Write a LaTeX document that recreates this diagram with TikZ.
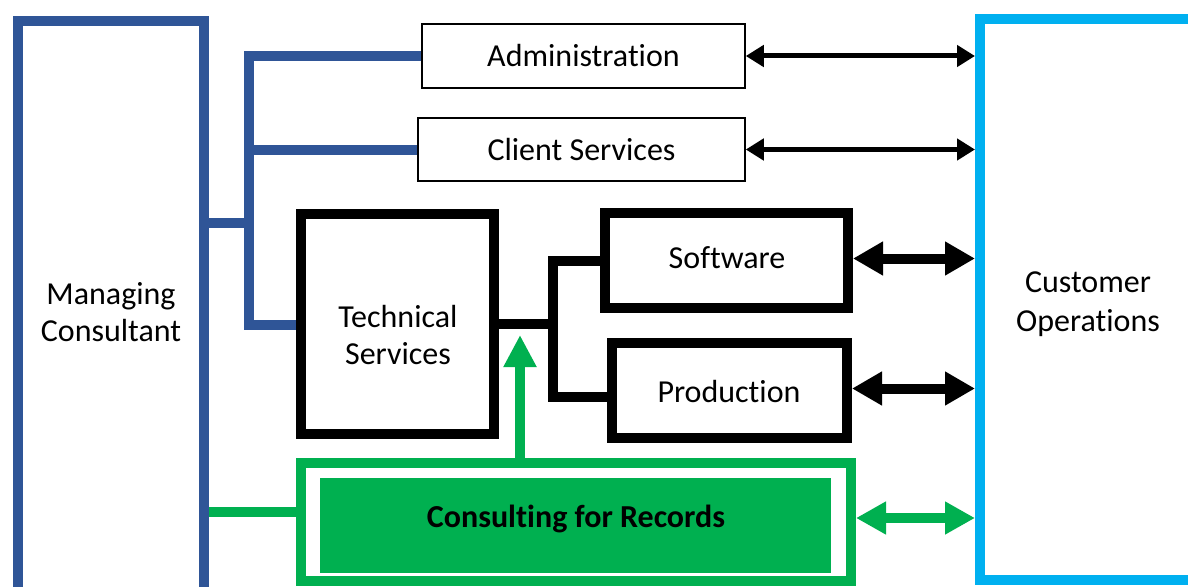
\documentclass[tikz,border=0pt]{standalone}
\usepackage{fontspec}
\setmainfont{Carlito}[Ligatures=NoCommon]
\usetikzlibrary{arrows.meta}
\definecolor{mblue}{HTML}{2F5597}
\definecolor{cblue}{HTML}{00B0F0}
\definecolor{mgreen}{HTML}{00B050}
\tikzset{
  txt/.style={inner sep=0pt, align=center, font=\fontsize{32}{37.5}\selectfont},
  box/.style={draw, txt},
  thinbox/.style={box, line width=1.5pt},
  thickbox/.style={box, line width=10pt},
  blueline/.style={draw=mblue, line width=10pt},
  blackline/.style={draw=black, line width=10pt},
  greenline/.style={draw=mgreen, line width=10pt},
  thinarrow/.style={draw=black, line width=5pt, {Triangle[length=18pt,width=21pt]}-{Triangle[length=18pt,width=21pt]}},
  thickarrow/.style={draw=black, line width=10pt, {Triangle[length=30pt,width=32pt]}-{Triangle[length=30pt,width=32pt]}},
  greenarrow/.style={draw=mgreen, line width=10pt, {Triangle[length=30pt,width=31pt]}-{Triangle[length=30pt,width=31pt]}},
  uparrow/.style={draw=mgreen, line width=10pt, -{Triangle[length=32pt,width=31pt]}}
}
\begin{document}
\begin{tikzpicture}[x=1pt,y=-1pt]
\useasboundingbox (0,0) rectangle (1188,586);
\clip (0,0) rectangle (1188,586);
\fill[white] (0,0) rectangle (1188,586);
% main boxes
\node[thickbox, draw=mblue, minimum width=186pt, minimum height=579pt] (mc) at (111,310.5) {};
\node[txt] (mclabel) at (111,312) {Managing\\Consultant};
\node[thickbox, draw=cblue, minimum width=220pt, minimum height=561pt] (co) at (1090,299.5) {};
\node[txt, font=\fontsize{32}{39}\selectfont] (colabel) at (1088,304) {Customer\\Operations};
\node[thinbox, minimum width=323pt, minimum height=64pt] (ad) at (583.5,56) {Administration};
\node[thinbox, minimum width=327pt, minimum height=63pt] (cs) at (581.5,149.5) {Client Services};
\node[thickbox, minimum width=193pt, minimum height=220pt] (ts) at (397.5,324) {};
\node[txt] (tslabel) at (398,335) {Technical\\Services};
\node[thickbox, minimum width=243pt, minimum height=95pt] (sw) at (726.5,260.5) {};
\node[txt] (swlabel) at (727,258) {Software};
\node[thickbox, minimum width=235pt, minimum height=95pt] (pr) at (729.5,390.5) {};
\node[txt] (prlabel) at (729,392) {Production};
\node[thickbox, draw=mgreen, minimum width=550pt, minimum height=118pt] (go) at (576,522) {};
\node[box, draw=none, fill=mgreen, minimum width=511pt, minimum height=95pt] (gi) at (575.5,525.5) {};
\node[txt, font=\fontsize{32}{37.5}\selectfont\bfseries] (gilabel) at (576,519) {Consulting for Records};
% blue connectors
\coordinate (bb) at (249,325);
\coordinate (bj) at (249,223);
\draw[blueline] (ad.west) -| (bb) -- (bb -| ts.west);
\draw[blueline] (bj -| mc.east) -- (bj);
\draw[blueline] (bj |- cs.west) -- (cs.west);
% black connectors
\coordinate (tj) at (553,397);
\draw[blackline] (ts.east) -- (ts.east -| tj);
\draw[blackline] (sw.west) -| (tj) -- (tj -| pr.west);
% green connectors
\coordinate (gj) at (0,512);
\draw[greenline] (mc.east |- gj) -- (go.west |- gj);
\coordinate (gt) at (520,335);
\draw[uparrow] (gt |- go.north) -- (gt);
% arrows to customer operations
\draw[thinarrow] (ad.east) -- (ad.east -| co.west);
\draw[thinarrow] (cs.east) -- (cs.east -| co.west);
\draw[thickarrow] ([yshift=2pt]sw.east) -- ([yshift=2pt]sw.east -| co.west);
\draw[thickarrow] ([yshift=2pt]pr.east) -- ([yshift=2pt]pr.east -| co.west);
\draw[greenarrow] ([yshift=4pt]go.east) -- ([yshift=4pt]go.east -| co.west);
\end{tikzpicture}
\end{document}
